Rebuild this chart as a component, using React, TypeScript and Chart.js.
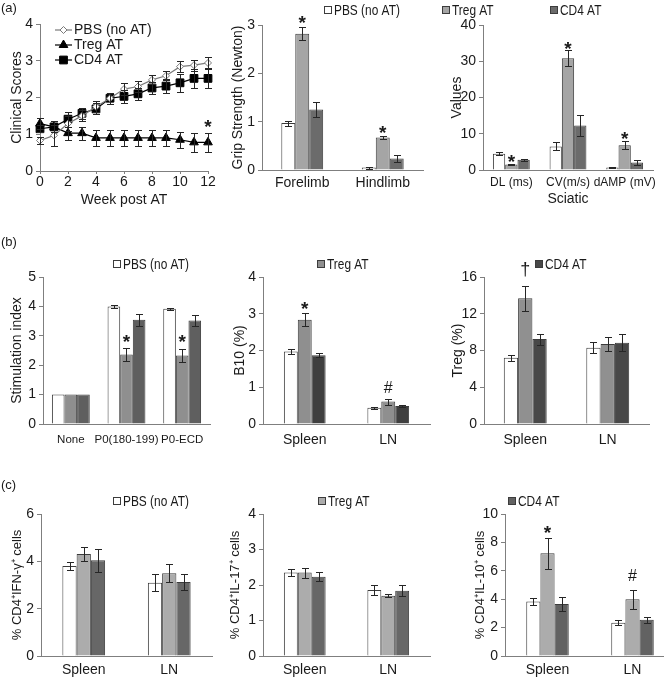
import React, { useEffect, useRef } from 'react';
import { Chart, registerables } from 'chart.js';

Chart.register(...registerables);

const FONT = "'Liberation Sans', Arial, Helvetica, sans-serif";
const LEGFONT = "'Liberation Sans Narrow', 'Liberation Sans', Arial, sans-serif";
const AXIS = '#7f7f7f';
const TXT = '#1a1a1a';
const EBAR = '#262626';
const EDGE = '#3c3c3c';

Chart.defaults.font.family = FONT;
Chart.defaults.color = TXT;

const SERIES = ['PBS (no AT)', 'Treg AT', 'CD4 AT'];

// ---------- (a) clinical scores ----------
const clinWeeks = [0, 1, 2, 3, 4, 5, 6, 7, 8, 9, 10, 11, 12];
const clinPBS = [0.83, 0.97, 1.29, 1.5, 1.75, 1.98, 2.23, 2.3, 2.48, 2.59, 2.84, 2.88, 2.94];
const clinPBSErr = [0.1, 0.28, 0.2, 0.15, 0.15, 0.15, 0.17, 0.15, 0.12, 0.12, 0.15, 0.15, 0.15];
const clinTreg = [1.29, 1.2, 1.03, 1.03, 0.9, 0.9, 0.9, 0.9, 0.9, 0.9, 0.85, 0.78, 0.78];
const clinTregErr = [0.15, 0.15, 0.18, 0.18, 0.22, 0.22, 0.22, 0.22, 0.22, 0.22, 0.22, 0.25, 0.25];
const clinCD4 = [1.15, 1.2, 1.41, 1.57, 1.69, 1.98, 2.03, 2.1, 2.26, 2.31, 2.4, 2.52, 2.52];
const clinCD4Err = [0.1, 0.15, 0.2, 0.15, 0.15, 0.15, 0.17, 0.17, 0.17, 0.2, 0.25, 0.25, 0.25];
const clinMarks = [{ text: '*', series: 1, cat: 12, at: 1.34 }];

// ---------- grip strength ----------
const gripCats = ['Forelimb', 'Hindlimb'];
const gripPBS = [0.97, 0.05];
const gripPBSErr = [0.05, 0.02];
const gripTreg = [2.82, 0.67];
const gripTregErr = [0.13, 0.03];
const gripCD4 = [1.25, 0.24];
const gripCD4Err = [0.15, 0.08];
const gripMarks = [
  { text: '*', series: 1, cat: 0, at: 3.15 },
  { text: '*', series: 1, cat: 1, at: 0.87 },
];

// ---------- sciatic ----------
const sciCats = ['DL (ms)', 'CV(m/s)', 'dAMP (mV)'];
const sciPBS = [4.5, 6.5, 0.7];
const sciPBSErr = [0.4, 1.1, 0.2];
const sciTreg = [1.5, 30.8, 6.8];
const sciTregErr = [0.1, 2.2, 1.1];
const sciCD4 = [2.8, 12.3, 2.1];
const sciCD4Err = [0.3, 2.8, 0.6];
const sciMarks = [
  { text: '*', series: 1, cat: 0, at: 3.7 },
  { text: '*', series: 1, cat: 1, at: 34.7 },
  { text: '*', series: 1, cat: 2, at: 9.9 },
];

// ---------- (b) stimulation index ----------
const stimCats = ['None', 'P0(180-199)', 'P0-ECD'];
const stimPBS = [1, 4.0, 3.92];
const stimPBSErr = [0, 0.05, 0.04];
const stimTreg = [1, 2.36, 2.33];
const stimTregErr = [0, 0.21, 0.21];
const stimCD4 = [1, 3.55, 3.52];
const stimCD4Err = [0, 0.2, 0.2];
const stimMarks = [
  { text: '*', series: 1, cat: 1, at: 2.96 },
  { text: '*', series: 1, cat: 2, at: 2.96 },
];

// ---------- B10 ----------
const tissueCats = ['Spleen', 'LN'];
const b10PBS = [1.97, 0.44];
const b10PBSErr = [0.07, 0.03];
const b10Treg = [2.84, 0.61];
const b10TregErr = [0.18, 0.08];
const b10CD4 = [1.87, 0.49];
const b10CD4Err = [0.06, 0.03];
const b10Marks = [
  { text: '*', series: 1, cat: 0, at: 3.26 },
  { text: '#', series: 1, cat: 1, at: 1.0 },
];

// ---------- Treg % ----------
const tregPBS = [7.2, 8.3];
const tregPBSErr = [0.35, 0.6];
const tregTreg = [13.7, 8.7];
const tregTregErr = [1.35, 0.8];
const tregCD4 = [9.25, 8.85];
const tregCD4Err = [0.6, 0.95];
const tregMarks = [{ text: '\u2020', series: 1, cat: 0, at: 16.8 }];

// ---------- (c) IFN-g ----------
const ifnPBS = [3.8, 3.1];
const ifnPBSErr = [0.17, 0.35];
const ifnTreg = [4.31, 3.5];
const ifnTregErr = [0.3, 0.38];
const ifnCD4 = [4.05, 3.13];
const ifnCD4Err = [0.49, 0.35];

// ---------- IL-17 ----------
const il17PBS = [2.35, 1.86];
const il17PBSErr = [0.11, 0.14];
const il17Treg = [2.35, 1.7];
const il17TregErr = [0.14, 0.05];
const il17CD4 = [2.23, 1.84];
const il17CD4Err = [0.13, 0.15];

// ---------- IL-10 ----------
const il10PBS = [3.83, 2.35];
const il10PBSErr = [0.25, 0.18];
const il10Treg = [7.23, 4.0];
const il10TregErr = [1.1, 0.67];
const il10CD4 = [3.66, 2.55];
const il10CD4Err = [0.47, 0.22];
const il10Marks = [
  { text: '*', series: 1, cat: 0, at: 9.0 },
  { text: '#', series: 1, cat: 1, at: 5.7 },
];

// ---------------- types ----------------
type Mark = { text: string; series: number; cat: number; at: number };
type Series = {
  label: string; values: number[]; errors: number[]; fill: string;
  stroke?: string; style?: string; radius?: number;
};
type Cell = { x: number; y: number; w: number; h: number };
type Plot = { l: number; t: number; r: number; b: number };
type LegItem = { label: string; fill: string; x: number; y: number };

interface PanelSpec {
  kind: 'bar' | 'line';
  cell: Cell; plot: Plot;
  labels?: string[];
  xs?: number[];
  series: Series[];
  catPct?: number;
  yMax: number; yStep: number;
  yTitle: string; yTitleSize: number; yTitleX: number;
  xTitle?: string; xTitleY?: number;
  tickY: number; tickSize?: number;
  marks: Mark[];
  legend: LegItem[];
  lineLegend?: { x0: number; x1: number; tx: number; ys: number[] };
  tag?: { text: string; x: number; y: number };
}

const WHITE = '#ffffff';
const A_TREG = '#a5a5a5';
const A_CD4 = '#6b6b6b';

function three(v: number[][], e: number[][], fills: string[]): Series[] {
  return [0, 1, 2].map((k) => ({ label: SERIES[k], values: v[k], errors: e[k], fill: fills[k] }));
}

const ROW_A = { y: 0, h: 210, t: 25, b: 170 };
const ROW_B = { y: 210, h: 240, t: 277, b: 424 };
const ROW_C = { y: 450, h: 230, t: 514, b: 656 };

const panels: PanelSpec[] = [
  {
    kind: 'line',
    cell: { x: 0, y: ROW_A.y, w: 220, h: ROW_A.h },
    plot: { l: 40, t: 24, r: 208, b: 171 },
    xs: clinWeeks,
    series: [
      { label: SERIES[0], values: clinPBS, errors: clinPBSErr, fill: '#ffffff', stroke: '#7a7a7a', style: 'rectRot', radius: 3.5 },
      { label: SERIES[1], values: clinTreg, errors: clinTregErr, fill: '#000000', stroke: '#000000', style: 'triangle', radius: 5 },
      { label: SERIES[2], values: clinCD4, errors: clinCD4Err, fill: '#000000', stroke: '#000000', style: 'rect', radius: 5.5 },
    ],
    yMax: 4, yStep: 1,
    yTitle: 'Clinical Scores', yTitleSize: 14, yTitleX: 17,
    xTitle: 'Week post AT', xTitleY: 200,
    tickY: 182,
    marks: clinMarks,
    legend: [],
    lineLegend: { x0: 55, x1: 72, tx: 74, ys: [30, 45, 60] },
    tag: { text: '(a)', x: 1, y: 8 },
  },
  {
    kind: 'bar',
    cell: { x: 220, y: ROW_A.y, w: 220, h: ROW_A.h },
    plot: { l: 262, t: ROW_A.t, r: 423, b: ROW_A.b },
    labels: gripCats,
    series: three([gripPBS, gripTreg, gripCD4], [gripPBSErr, gripTregErr, gripCD4Err], [WHITE, A_TREG, A_CD4]),
    catPct: 0.52,
    yMax: 3, yStep: 1,
    yTitle: 'Grip Strength (Newton)', yTitleSize: 14, yTitleX: 238,
    tickY: 183,
    marks: gripMarks,
    legend: [{ label: SERIES[0], fill: WHITE, x: 324, y: 10 }],
  },
  {
    kind: 'bar',
    cell: { x: 440, y: ROW_A.y, w: 224, h: ROW_A.h },
    plot: { l: 483, t: ROW_A.t, r: 653, b: ROW_A.b },
    labels: sciCats,
    series: three([sciPBS, sciTreg, sciCD4], [sciPBSErr, sciTregErr, sciCD4Err], [WHITE, A_TREG, A_CD4]),
    catPct: 0.65,
    yMax: 40, yStep: 10,
    yTitle: 'Values', yTitleSize: 14, yTitleX: 457,
    xTitle: 'Sciatic', xTitleY: 199,
    tickY: 183, tickSize: 12,
    marks: sciMarks,
    legend: [
      { label: SERIES[1], fill: A_TREG, x: 442, y: 10 },
      { label: SERIES[2], fill: A_CD4, x: 550, y: 10 },
    ],
  },
  {
    kind: 'bar',
    cell: { x: 0, y: ROW_B.y, w: 220, h: ROW_B.h },
    plot: { l: 43, t: ROW_B.t, r: 210, b: ROW_B.b },
    labels: stimCats,
    series: three([stimPBS, stimTreg, stimCD4], [stimPBSErr, stimTregErr, stimCD4Err], [WHITE, '#8f8f8f', '#5f5f5f']),
    catPct: 0.68,
    yMax: 5, yStep: 1,
    yTitle: 'Stimulation index', yTitleSize: 14, yTitleX: 17,
    tickY: 440, tickSize: 11.5,
    marks: stimMarks,
    legend: [{ label: SERIES[0], fill: WHITE, x: 113, y: 264 }],
    tag: { text: '(b)', x: 1, y: 242 },
  },
  {
    kind: 'bar',
    cell: { x: 220, y: ROW_B.y, w: 220, h: ROW_B.h },
    plot: { l: 263, t: ROW_B.t, r: 430, b: ROW_B.b },
    labels: tissueCats,
    series: three([b10PBS, b10Treg, b10CD4], [b10PBSErr, b10TregErr, b10CD4Err], [WHITE, '#8f8f8f', '#3f3f3f']),
    catPct: 0.5,
    yMax: 4, yStep: 1,
    yTitle: 'B10 (%)', yTitleSize: 14, yTitleX: 240,
    tickY: 440,
    marks: b10Marks,
    legend: [{ label: SERIES[1], fill: '#8f8f8f', x: 317, y: 264 }],
  },
  {
    kind: 'bar',
    cell: { x: 440, y: ROW_B.y, w: 224, h: ROW_B.h },
    plot: { l: 484, t: ROW_B.t, r: 649, b: ROW_B.b },
    labels: tissueCats,
    series: three([tregPBS, tregTreg, tregCD4], [tregPBSErr, tregTregErr, tregCD4Err], [WHITE, '#909090', '#484848']),
    catPct: 0.52,
    yMax: 16, yStep: 4,
    yTitle: 'Treg (%)', yTitleSize: 14, yTitleX: 458,
    tickY: 440,
    marks: tregMarks,
    legend: [{ label: SERIES[2], fill: '#484848', x: 535, y: 264 }],
  },
  {
    kind: 'bar',
    cell: { x: 0, y: ROW_C.y, w: 220, h: ROW_C.h },
    plot: { l: 41, t: ROW_C.t, r: 212, b: ROW_C.b },
    labels: tissueCats,
    series: three([ifnPBS, ifnTreg, ifnCD4], [ifnPBSErr, ifnTregErr, ifnCD4Err], [WHITE, '#acacac', '#676767']),
    catPct: 0.5,
    yMax: 6, yStep: 2,
    yTitle: '% CD4\u207AIFN-\u03B3\u207A cells', yTitleSize: 13, yTitleX: 17,
    tickY: 670,
    marks: [],
    legend: [{ label: SERIES[0], fill: WHITE, x: 113, y: 501 }],
    tag: { text: '(c)', x: 1, y: 485 },
  },
  {
    kind: 'bar',
    cell: { x: 220, y: ROW_C.y, w: 220, h: ROW_C.h },
    plot: { l: 263, t: ROW_C.t, r: 430, b: ROW_C.b },
    labels: tissueCats,
    series: three([il17PBS, il17Treg, il17CD4], [il17PBSErr, il17TregErr, il17CD4Err], [WHITE, '#acacac', '#676767']),
    catPct: 0.5,
    yMax: 4, yStep: 1,
    yTitle: '% CD4\u207AIL-17\u207A cells', yTitleSize: 13, yTitleX: 235,
    tickY: 670,
    marks: [],
    legend: [{ label: SERIES[1], fill: '#acacac', x: 318, y: 501 }],
  },
  {
    kind: 'bar',
    cell: { x: 440, y: ROW_C.y, w: 240, h: ROW_C.h },
    plot: { l: 505, t: ROW_C.t, r: 675, b: ROW_C.b },
    labels: tissueCats,
    series: three([il10PBS, il10Treg, il10CD4], [il10PBSErr, il10TregErr, il10CD4Err], [WHITE, '#acacac', '#626262']),
    catPct: 0.5,
    yMax: 10, yStep: 2,
    yTitle: '% CD4\u207AIL-10\u207A cells', yTitleSize: 13, yTitleX: 480,
    tickY: 670,
    marks: il10Marks,
    legend: [{ label: SERIES[2], fill: '#626262', x: 508, y: 501 }],
  },
];

const GLYPH: Record<string, { font: string; dy: number }> = {
  '*': { font: `bold 19px ${FONT}`, dy: 11 },
  '#': { font: `16px ${FONT}`, dy: 5.8 },
  '\u2020': { font: `18px ${FONT}`, dy: 5 },
};

function drawMarker(ctx: CanvasRenderingContext2D, style: string, x: number, y: number, r: number, fill: string, stroke: string) {
  ctx.beginPath();
  if (style === 'rectRot') {
    ctx.moveTo(x, y - r); ctx.lineTo(x + r, y); ctx.lineTo(x, y + r); ctx.lineTo(x - r, y); ctx.closePath();
  } else if (style === 'triangle') {
    ctx.moveTo(x, y - r);
    ctx.lineTo(x + r * Math.sin(Math.PI * 2 / 3), y - r * Math.cos(Math.PI * 2 / 3));
    ctx.lineTo(x - r * Math.sin(Math.PI * 2 / 3), y - r * Math.cos(Math.PI * 2 / 3));
    ctx.closePath();
  } else {
    const s = r * Math.SQRT1_2;
    ctx.rect(x - s, y - s, 2 * s, 2 * s);
  }
  ctx.fillStyle = fill; ctx.fill();
  ctx.strokeStyle = stroke; ctx.lineWidth = 1; ctx.stroke();
}

function overlay(p: PanelSpec) {
  return {
    id: 'overlay',
    afterDatasetsDraw(chart: any) {
      const ctx: CanvasRenderingContext2D = chart.ctx;
      const ys = chart.scales.y;
      const ox = p.cell.x, oy = p.cell.y;
      ctx.save();
      // error bars
      ctx.strokeStyle = EBAR; ctx.lineWidth = 1;
      p.series.forEach((s, di) => {
        const meta = chart.getDatasetMeta(di);
        meta.data.forEach((el: any, i: number) => {
          const e = s.errors[i];
          if (!e) return;
          const v = s.values[i];
          const x = Math.round(el.x) + 0.5;
          const y1 = Math.round(ys.getPixelForValue(v + e)) + 0.5;
          const y2 = Math.round(ys.getPixelForValue(v - e)) + 0.5;
          const c = 3.5;
          ctx.beginPath();
          ctx.moveTo(x, y1); ctx.lineTo(x, y2);
          ctx.moveTo(x - c, y1); ctx.lineTo(x + c, y1);
          ctx.moveTo(x - c, y2); ctx.lineTo(x + c, y2);
          ctx.stroke();
        });
      });
      // significance marks
      p.marks.forEach((m) => {
        const el = chart.getDatasetMeta(m.series).data[m.cat];
        const g = GLYPH[m.text];
        ctx.font = g.font; ctx.fillStyle = TXT; ctx.textAlign = 'center'; ctx.textBaseline = 'alphabetic';
        ctx.fillText(m.text, el.x, ys.getPixelForValue(m.at) + g.dy);
      });
      // legends (condensed lettering like the reference)
      p.legend.forEach((l) => {
        const bx = Math.round(l.x - ox), by = Math.round(l.y - oy - 4);
        ctx.fillStyle = l.fill; ctx.fillRect(bx, by, 8, 8);
        ctx.strokeStyle = EDGE; ctx.lineWidth = 1; ctx.strokeRect(bx + 0.5, by + 0.5, 7, 7);
        ctx.save();
        ctx.translate(bx + 10, l.y - oy + 0.5);
        ctx.scale(0.82, 1);
        ctx.font = `14.5px ${LEGFONT}`; ctx.fillStyle = TXT; ctx.textAlign = 'left'; ctx.textBaseline = 'middle';
        ctx.fillText(l.label, 0, 0);
        ctx.restore();
      });
      if (p.lineLegend) {
        const L = p.lineLegend;
        p.series.forEach((s, k) => {
          const y = L.ys[k] - oy;
          ctx.beginPath(); ctx.strokeStyle = s.stroke || '#000'; ctx.lineWidth = 1.2;
          ctx.moveTo(L.x0 - ox, y); ctx.lineTo(L.x1 - ox, y); ctx.stroke();
          drawMarker(ctx, s.style || 'rect', (L.x0 + L.x1) / 2 - ox, y, s.radius || 4, s.fill, s.stroke || '#000');
          ctx.font = `14px ${FONT}`; ctx.fillStyle = TXT; ctx.textAlign = 'left'; ctx.textBaseline = 'middle';
          ctx.fillText(s.label, L.tx - ox, y + 0.5);
        });
      }
      if (p.tag) {
        ctx.font = `13px ${FONT}`; ctx.fillStyle = TXT; ctx.textAlign = 'left'; ctx.textBaseline = 'middle';
        ctx.fillText(p.tag.text, p.tag.x - ox, p.tag.y - oy);
      }
      ctx.restore();
    },
  };
}

function buildConfig(p: PanelSpec): any {
  const padTop = p.plot.t - p.cell.y;
  const padRight = p.cell.x + p.cell.w - p.plot.r;
  const yW = p.plot.l - p.cell.x;
  const xH = p.cell.y + p.cell.h - p.plot.b;
  const tSize = p.tickSize || 14;
  const lh = tSize * 1.2;
  const isLine = p.kind === 'line';
  const xTl = isLine ? 3 : 0;
  const xPad = Math.max(0, p.tickY - p.plot.b - xTl - lh / 2);
  const yTitlePad = p.yTitleX - p.cell.x - (p.yTitleSize * 1.2) / 2;

  const datasets = isLine
    ? p.series.map((s) => ({
        type: 'line',
        label: s.label,
        data: (p.xs || []).map((x, i) => ({ x, y: s.values[i] })),
        borderColor: s.stroke,
        borderWidth: 1.2,
        pointStyle: s.style,
        pointRadius: s.radius,
        pointBackgroundColor: s.fill,
        pointBorderColor: s.stroke,
        pointBorderWidth: 1,
        clip: false,
        tension: 0,
      }))
    : p.series.map((s) => ({
        label: s.label,
        data: s.values,
        backgroundColor: s.fill,
        borderColor: EDGE,
        borderWidth: 1,
        categoryPercentage: p.catPct,
        barPercentage: 1,
      }));

  const xScale: any = isLine
    ? {
        type: 'linear', min: 0, max: 12,
        ticks: { stepSize: 2, font: { family: FONT, size: tSize }, color: TXT, padding: xPad },
        grid: { drawOnChartArea: false, drawTicks: true, tickLength: 3, color: AXIS },
        border: { display: true, color: AXIS },
      }
    : {
        type: 'category',
        ticks: { font: { family: FONT, size: tSize }, color: TXT, padding: xPad, autoSkip: false, maxRotation: 0, minRotation: 0 },
        grid: { display: false, drawTicks: false },
        border: { display: true, color: AXIS },
      };
  xScale.afterFit = (s: any) => { s.height = xH; };
  if (p.xTitle) {
    xScale.title = {
      display: true, text: p.xTitle, color: TXT,
      font: { family: FONT, size: 14 },
      padding: { top: 0, bottom: p.cell.y + p.cell.h - (p.xTitleY || 0) - 8.4 },
    };
  }

  return {
    type: isLine ? 'line' : 'bar',
    data: { labels: p.labels, datasets },
    options: {
      animation: false,
      responsive: false,
      maintainAspectRatio: false,
      devicePixelRatio: 1,
      layout: { padding: { top: padTop, right: padRight, left: 0, bottom: 0 } },
      plugins: { legend: { display: false }, tooltip: { enabled: false }, title: { display: false } },
      scales: {
        x: xScale,
        y: {
          type: 'linear', min: 0, max: p.yMax,
          afterFit: (s: any) => { s.width = yW; },
          ticks: { stepSize: p.yStep, font: { family: FONT, size: 14 }, color: TXT, padding: 3 },
          grid: { drawOnChartArea: false, drawTicks: true, tickLength: 4, color: AXIS },
          border: { display: true, color: AXIS },
          title: {
            display: true, text: p.yTitle, color: TXT,
            font: { family: FONT, size: p.yTitleSize },
            padding: { top: yTitlePad, bottom: 0 },
          },
        },
      },
    },
    plugins: [overlay(p)],
  };
}

function Panel({ spec }: { spec: PanelSpec }) {
  const ref = useRef<HTMLCanvasElement>(null);
  useEffect(() => {
    if (!ref.current) return;
    const chart = new Chart(ref.current, buildConfig(spec));
    return () => chart.destroy();
  }, [spec]);
  return (
    <canvas
      ref={ref}
      width={spec.cell.w}
      height={spec.cell.h}
      style={{ position: 'absolute', left: spec.cell.x, top: spec.cell.y, width: spec.cell.w, height: spec.cell.h }}
    />
  );
}

export default function App() {
  return (
    <div style={{ position: 'absolute', left: 0, top: 0, width: 664, height: 680, overflow: 'hidden', background: '#ffffff' }}>
      {panels.map((p, i) => (
        <Panel key={i} spec={p} />
      ))}
    </div>
  );
}
